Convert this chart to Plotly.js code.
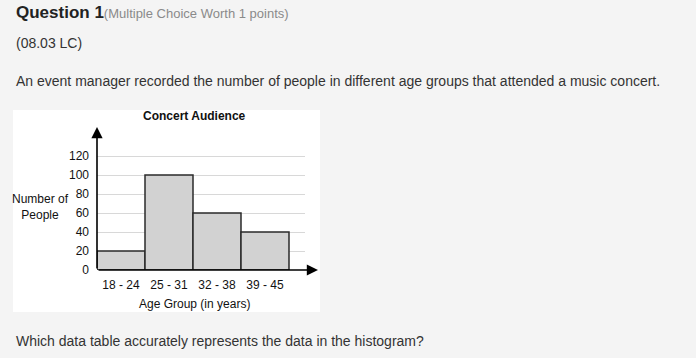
<!DOCTYPE html>
<html>
<head>
<meta charset="utf-8">
<script src="https://cdn.plot.ly/plotly-3.0.1.min.js"></script>
<style>html,body{margin:0;padding:0;background:#f4f4f4;}#chart{width:696px;height:358px;}</style>
</head>
<body>
<div id="chart"></div>
<script>
const categories = ["18 - 24", "25 - 31", "32 - 38", "39 - 45"];
const people = [20, 100, 60, 40];
const yTicks = [0, 20, 40, 60, 80, 100, 120];

const W = 696, H = 358;
const px = v => v / W;
const py = v => (H - v) / H;

const trace = {
  type: 'bar',
  x: categories.map((c, i) => i),
  y: people,
  width: 1,
  marker: {color: '#d2d2d2', line: {color: '#2a2a2a', width: 1.5}},
  hoverinfo: 'skip'
};

const textColor = '#333';
const layout = {
  width: W, height: H,
  margin: {l: 0, r: 0, t: 0, b: 0},
  paper_bgcolor: '#f4f4f4',
  plot_bgcolor: 'rgba(0,0,0,0)',
  font: {family: 'Liberation Sans, Arial, sans-serif', color: '#111', size: 12},
  showlegend: false,
  bargap: 0,
  xaxis: {
    domain: [px(97), px(305)],
    range: [-0.5, (305 - 97) / 48 - 0.5],
    tickvals: categories.map((c, i) => i),
    ticktext: categories,
    showgrid: false, zeroline: false, showline: false,
    ticks: '', ticklabelstandoff: 6,
    tickfont: {size: 12, color: '#111'},
    fixedrange: true
  },
  yaxis: {
    domain: [py(270), py(270 - 125 * 0.95)],
    range: [0, 125],
    tickvals: yTicks,
    showgrid: true, gridcolor: '#d8d8d8', gridwidth: 1,
    zeroline: false, showline: false,
    ticks: '', ticklabelstandoff: 7,
    tickfont: {size: 12, color: '#111'},
    fixedrange: true
  },
  shapes: [
    {type: 'rect', xref: 'paper', yref: 'paper', x0: px(13), x1: px(320), y0: py(312), y1: py(110),
     fillcolor: '#ffffff', line: {width: 0}, layer: 'below'}
  ],
  annotations: [
    {xref: 'paper', yref: 'paper', x: px(14), y: py(13), xanchor: 'left', yanchor: 'middle', showarrow: false,
     text: "<b>Question 1</b><span style='font-size:13px;color:#8a8a8a'>(Multiple Choice Worth 1 points)</span>",
     font: {size: 17, color: '#222'}},
    {xref: 'paper', yref: 'paper', x: px(14), y: py(43), xanchor: 'left', yanchor: 'middle', showarrow: false,
     text: "(08.03 LC)", font: {size: 14, color: textColor}},
    {xref: 'paper', yref: 'paper', x: px(14), y: py(81), xanchor: 'left', yanchor: 'middle', showarrow: false,
     text: "An event manager recorded the number of people in different age groups that attended a music concert.",
     font: {size: 14, color: textColor}},
    {xref: 'paper', yref: 'paper', x: px(14), y: py(341), xanchor: 'left', yanchor: 'middle', showarrow: false,
     text: "Which data table accurately represents the data in the histogram?",
     font: {size: 14, color: textColor}},
    {xref: 'paper', yref: 'paper', x: px(195), y: py(116), xanchor: 'center', yanchor: 'middle', showarrow: false,
     text: "<b>Concert Audience</b>", font: {size: 12, color: '#111'}},
    {xref: 'paper', yref: 'paper', x: px(195), y: py(304), xanchor: 'center', yanchor: 'middle', showarrow: false,
     text: "Age Group (in years)", font: {size: 12, color: '#111'}},
    {xref: 'paper', yref: 'paper', x: px(40), y: py(206.5), xanchor: 'center', yanchor: 'middle', showarrow: false,
     text: "Number of<br>People", font: {size: 12, color: '#111'}},
    {xref: 'paper', yref: 'y', x: px(318), y: 0, ax: -221, ay: 0, text: '', showarrow: true,
     arrowhead: 2, arrowsize: 1.4, arrowwidth: 1.6, arrowcolor: '#000'},
    {xref: 'paper', yref: 'paper', x: px(97), y: py(127), ax: 0, ay: 143, text: '', showarrow: true,
     arrowhead: 2, arrowsize: 1.4, arrowwidth: 1.6, arrowcolor: '#000'}
  ]
};

Plotly.newPlot('chart', [trace], layout, {staticPlot: true, displayModeBar: false});
</script>
</body>
</html>
